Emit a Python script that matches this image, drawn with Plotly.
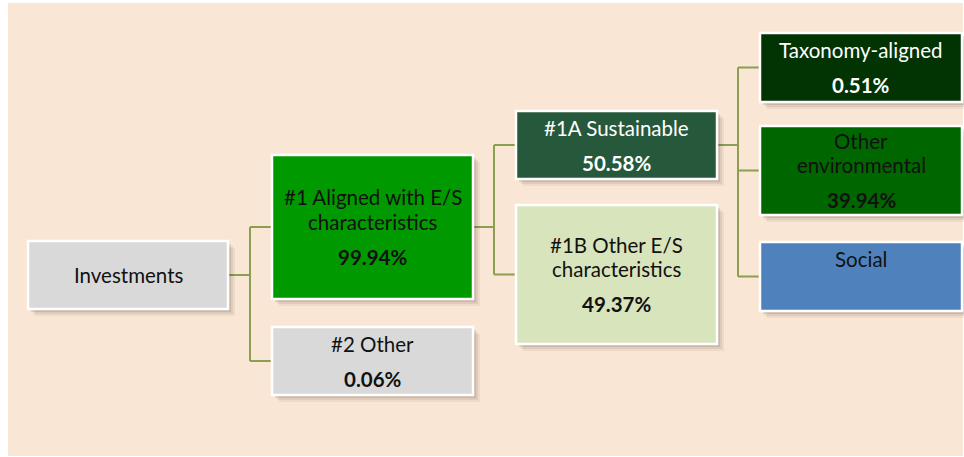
import plotly.graph_objects as go

# ---- data ----
labels = ["Investments", "#1 Aligned with E/S<br>characteristics", "#2 Other",
          "#1A Sustainable", "#1B Other E/S<br>characteristics",
          "Taxonomy-aligned", "Other<br>environmental", "Social"]
values = [None, 99.94, 0.06, 50.58, 49.37, 0.51, 39.94, None]
parents = [None, 0, 0, 1, 1, 3, 3, 3]

# ---- layout / style ----
W, H = 964, 457
boxes = [  # x0, x1, y0, y1 (pixels, top-down)
    (28, 228, 241, 309),
    (272, 473, 155, 299),
    (272, 473, 327, 395),
    (516, 717, 111, 179),
    (516, 717, 205, 344),
    (760, 962, 33, 102),
    (760, 962, 126, 215),
    (760, 962, 242, 311),
]
fills = ["#D9D9D9", "#009900", "#D9D9D9", "#26583B", "#D8E4BC",
         "#023302", "#006600", "#4F81BD"]
txtcol = ["#111111", "#111111", "#111111", "#FFFFFF", "#111111",
          "#FFFFFF", "#111111", "#111111"]
bus_x = {0: 250, 1: 494, 3: 738}
LINE = "#8A9F52"
FONT = "Lato"
FS = 20.5

fig = go.Figure()
shapes = []
ann = []

# background panel
shapes.append(dict(type="rect", x0=8, x1=963, y0=3, y1=456,
                   fillcolor="#F9E6D5", line=dict(width=0), layer="below"))

def cy(i):
    return (boxes[i][2] + boxes[i][3]) / 2

# connectors
for p, bx in bus_x.items():
    kids = [i for i, q in enumerate(parents) if q == p]
    ys = [cy(k) for k in kids]
    shapes.append(dict(type="line", x0=boxes[p][1], x1=bx, y0=cy(p), y1=cy(p),
                       line=dict(color=LINE, width=2)))
    shapes.append(dict(type="line", x0=bx, x1=bx, y0=min(ys), y1=max(ys),
                       line=dict(color=LINE, width=2)))
    for k in kids:
        shapes.append(dict(type="line", x0=bx, x1=boxes[k][0], y0=cy(k), y1=cy(k),
                           line=dict(color=LINE, width=2)))

# boxes with soft shadow
for i, (x0, x1, y0, y1) in enumerate(boxes):
    for d, a in [(7, 0.06), (5, 0.08), (3, 0.12)]:
        shapes.append(dict(type="rect", x0=x0 + d, x1=x1 + d, y0=y0 + d, y1=y1 + d,
                           fillcolor=f"rgba(60,40,20,{a})", line=dict(width=0)))
    shapes.append(dict(type="rect", x0=x0, x1=x1, y0=y0, y1=y1,
                       fillcolor=fills[i], line=dict(color="white", width=2.5)))

# text
LG, VG = 24.5, 35
for i, lab in enumerate(labels):
    lines = lab.split("<br>")
    if values[i] is not None:
        vt = f"<b>{values[i]:.2f}%</b>"
    elif i == 0:
        vt = None
    else:
        vt = ""
    n = len(lines)
    span = (n - 1) * LG + (VG if vt is not None else 0)
    y = cy(i) - span / 2
    xc = (boxes[i][0] + boxes[i][1]) / 2
    items = [(l, y + k * LG) for k, l in enumerate(lines)]
    if vt is not None:
        items.append((vt, y + (n - 1) * LG + VG))
    for t, yy in items:
        if t == "":
            continue
        ann.append(dict(x=xc, y=yy, text=t, showarrow=False, xanchor="center",
                        yanchor="middle", font=dict(family=FONT, size=FS, color=txtcol[i])))

fig.update_layout(
    width=W, height=H, margin=dict(l=0, r=0, t=0, b=0),
    paper_bgcolor="white", plot_bgcolor="white",
    xaxis=dict(range=[0, W], visible=False, fixedrange=True),
    yaxis=dict(range=[H, 0], visible=False, fixedrange=True),
    shapes=shapes, annotations=ann, showlegend=False,
)
fig.write_html("out.html", config={"displayModeBar": False},
               post_script="document.body.style.margin='0';document.body.style.overflow='hidden';")
